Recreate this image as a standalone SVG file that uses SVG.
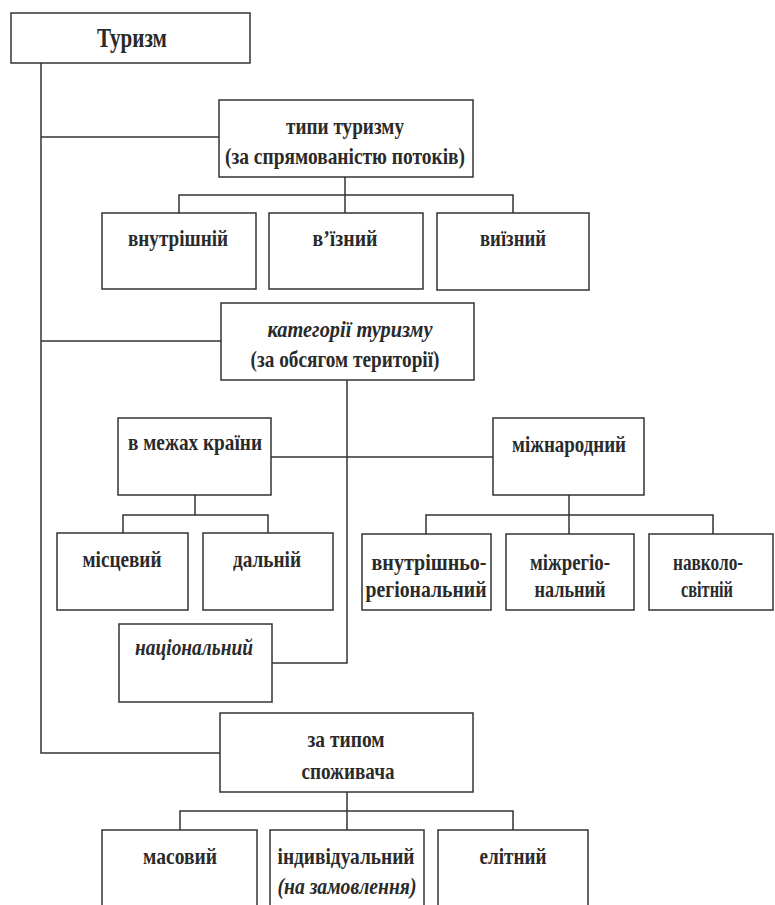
<svg xmlns="http://www.w3.org/2000/svg" width="775" height="905" viewBox="0 0 775 905" font-family="'Liberation Serif', 'DejaVu Serif', serif">
<style>
.b{fill:#fff;stroke:#333;stroke-width:1.5}
.c{fill:none;stroke:#333;stroke-width:1.5}
text{font-family:'Liberation Serif','DejaVu Serif',serif;font-size:23px;font-weight:bold;fill:#2a2a2a;text-anchor:middle}
.i{font-style:italic}
.big{font-size:27px}
</style>
<rect width="775" height="905" fill="#fff"/>
<g id="connectors">
<path class="c" d="M41 63 V753 H220"/>
<path class="c" d="M41 137 H219"/>
<path class="c" d="M41 341 H221"/>
<path class="c" d="M345 177 V213"/>
<path class="c" d="M179 213 V195 H513 V213"/>
<path class="c" d="M347 380 V663 H272"/>
<path class="c" d="M271 457 H493"/>
<path class="c" d="M195 495 V515"/>
<path class="c" d="M123 533 V515 H268 V533"/>
<path class="c" d="M569 495 V534"/>
<path class="c" d="M426 534 V515 H713 V534"/>
<path class="c" d="M347 792 V830"/>
<path class="c" d="M180 830 V811 H513 V830"/>
</g>
<g id="turyzm"><rect class="b" x="11" y="13" width="239" height="50"/><text class="big" x="132" y="47" textLength="70" lengthAdjust="spacingAndGlyphs">Туризм</text></g>
<g id="typy"><rect class="b" x="219" y="100" width="254" height="77"/><text x="345" y="134" textLength="118" lengthAdjust="spacingAndGlyphs">типи туризму</text><text x="345" y="164" textLength="240" lengthAdjust="spacingAndGlyphs">(за спрямованістю потоків)</text></g>
<g id="vnutrishnii"><rect class="b" x="102" y="213" width="154" height="76"/><text x="178" y="246" textLength="100" lengthAdjust="spacingAndGlyphs">внутрішній</text></g>
<g id="vyiznyi"><rect class="b" x="269" y="213" width="154" height="76"/><text x="345" y="246" textLength="65" lengthAdjust="spacingAndGlyphs">в’їзний</text></g>
<g id="vyiznyi2"><rect class="b" x="437" y="213" width="152" height="77"/><text x="513" y="246" textLength="66" lengthAdjust="spacingAndGlyphs">виїзний</text></g>
<g id="katehorii"><rect class="b" x="221" y="303" width="253" height="77"/><text class="i" x="350" y="337" textLength="165" lengthAdjust="spacingAndGlyphs">категорії туризму</text><text x="345" y="367" textLength="189" lengthAdjust="spacingAndGlyphs">(за обсягом території)</text></g>
<g id="v-mezhakh"><rect class="b" x="118" y="418" width="153" height="77"/><text x="195" y="450" textLength="134" lengthAdjust="spacingAndGlyphs">в межах країни</text></g>
<g id="mizhnarodnyi"><rect class="b" x="493" y="418" width="151" height="77"/><text x="569" y="452" textLength="114" lengthAdjust="spacingAndGlyphs">міжнародний</text></g>
<g id="mistsevyi"><rect class="b" x="57" y="533" width="131" height="77"/><text x="122" y="567" textLength="79" lengthAdjust="spacingAndGlyphs">місцевий</text></g>
<g id="dalnii"><rect class="b" x="203" y="533" width="130" height="77"/><text x="267" y="567" textLength="68" lengthAdjust="spacingAndGlyphs">дальній</text></g>
<g id="vnutrishno"><rect class="b" x="362" y="534" width="129" height="76"/><text x="429" y="570" textLength="115" lengthAdjust="spacingAndGlyphs">внутрішньо-</text><text x="426" y="597" textLength="121" lengthAdjust="spacingAndGlyphs">регіональний</text></g>
<g id="mizhrehio"><rect class="b" x="506" y="534" width="128" height="76"/><text x="570" y="570" textLength="80" lengthAdjust="spacingAndGlyphs">міжрегіо-</text><text x="570" y="597" textLength="71" lengthAdjust="spacingAndGlyphs">нальний</text></g>
<g id="navkolo"><rect class="b" x="649" y="534" width="124" height="76"/><text x="708" y="570" textLength="70" lengthAdjust="spacingAndGlyphs">навколо-</text><text x="707" y="597" textLength="52" lengthAdjust="spacingAndGlyphs">світній</text></g>
<g id="natsionalnyi"><rect class="b" x="119" y="624" width="153" height="78"/><text class="i" x="194" y="655" textLength="118" lengthAdjust="spacingAndGlyphs">національний</text></g>
<g id="za-typom"><rect class="b" x="220" y="713" width="253" height="79"/><text x="346" y="747" textLength="77" lengthAdjust="spacingAndGlyphs">за типом</text><text x="348" y="779" textLength="93" lengthAdjust="spacingAndGlyphs">споживача</text></g>
<g id="masovyi"><rect class="b" x="102" y="830" width="155" height="90"/><text x="180" y="864" textLength="74" lengthAdjust="spacingAndGlyphs">масовий</text></g>
<g id="indyvidualnyi"><rect class="b" x="270" y="830" width="154" height="90"/><text x="346" y="864" textLength="137" lengthAdjust="spacingAndGlyphs">індивідуальний</text><text class="i" x="347" y="894" textLength="139" lengthAdjust="spacingAndGlyphs">(на замовлення)</text></g>
<g id="elitnyi"><rect class="b" x="438" y="830" width="150" height="90"/><text x="513" y="864" textLength="67" lengthAdjust="spacingAndGlyphs">елітний</text></g>
</svg>
